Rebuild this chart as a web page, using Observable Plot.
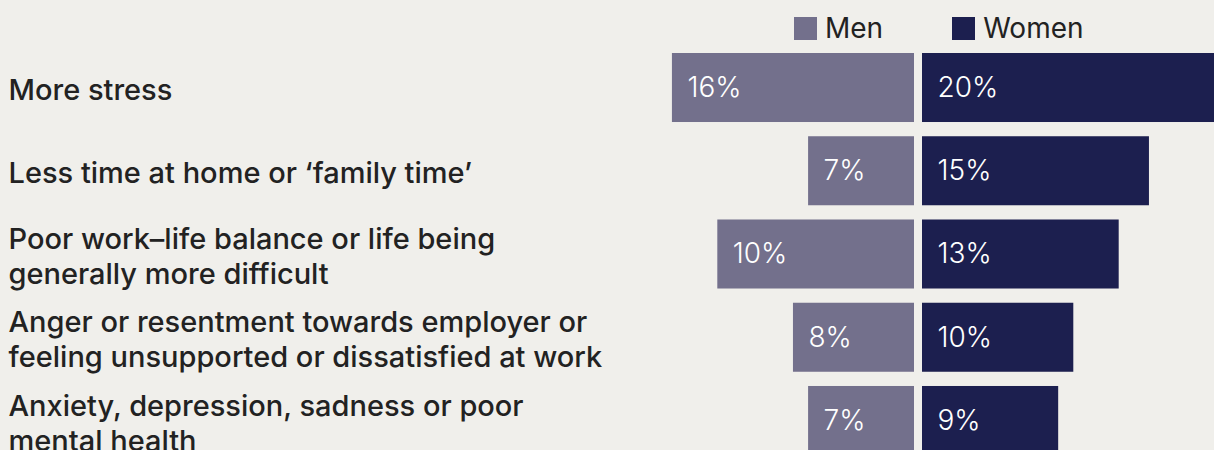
<!DOCTYPE html>
<html><head><meta charset="utf-8">
<script src="https://cdn.jsdelivr.net/npm/d3@7"></script>
<script src="https://cdn.jsdelivr.net/npm/@observablehq/plot@0.6"></script>
<style>
html,body{margin:0;padding:0;background:#f0efeb;overflow:hidden;width:1214px;height:450px}
#wrap{position:relative;width:1214px;height:450px;overflow:hidden}
#legend{position:absolute;left:794px;top:10px;display:flex;align-items:center;font-family:Inter,sans-serif;font-size:28px;color:#222;line-height:37px}
.item{display:inline-flex;align-items:center;margin-right:69px}
.sw{width:23px;height:23px;margin-right:8px}
#chart{position:absolute;left:0;top:0}
</style></head><body><div id="wrap"><div id="chart"></div><div id="legend"></div></div>
<script>
const categories = [
  "More stress",
  "Less time at home or ‘family time’",
  "Poor work–life balance or life being\ngenerally more difficult",
  "Anger or resentment towards employer or\nfeeling unsupported or dissatisfied at work",
  "Anxiety, depression, sadness or poor\nmental health"
];
const menValues = [16, 7, 13, 8, 7];
const menLabels = ["16%", "7%", "10%", "8%", "7%"];
const womenValues = [20, 15, 13, 10, 9];
const womenLabels = ["20%", "15%", "13%", "10%", "9%"];
const seriesNames = ["Men", "Women"];
const seriesColors = ["#73708c", "#1c1f4f"];

const men = categories.map((c, i) => ({cat: c, value: -menValues[i], label: menLabels[i]}));
const women = categories.map((c, i) => ({cat: c, value: womenValues[i], label: womenLabels[i]}));

const pxPerPct = 15.13;
const center = 918;

const chart = Plot.plot({
  width: 1214,
  height: 460,
  marginLeft: 0, marginRight: 0, marginTop: 0, marginBottom: 0,
  style: {background: "transparent", fontFamily: "Inter, sans-serif", color: "#222", overflow: "visible"},
  x: {domain: [0, 20], range: [center, center + 20 * pxPerPct], axis: null},
  y: {domain: categories, range: [53, 455], paddingInner: 0.171, paddingOuter: 0, round: false, axis: null},
  marks: [
    Plot.barX(men, {x1: 0, x2: "value", y: "cat", fill: seriesColors[0], dx: -4}),
    Plot.barX(women, {x1: 0, x2: "value", y: "cat", fill: seriesColors[1], dx: 4}),
    Plot.text(men, {x: "value", y: "cat", text: "label", textAnchor: "start", dx: 11, fill: "white", fontSize: 28, fontWeight: 300}),
    Plot.text(women, {x: 0, y: "cat", text: "label", textAnchor: "start", dx: 19, fill: "white", fontSize: 28, fontWeight: 300}),
    Plot.text(categories, {y: d => d, text: d => d, frameAnchor: "left", textAnchor: "start", dx: 8, dy: 1, fontSize: 29, fontWeight: 500, lineHeight: 1.2, fill: "#222"})
  ]
});
document.getElementById("chart").appendChild(chart);

const legend = document.getElementById("legend");
seriesNames.forEach((n, i) => {
  const it = document.createElement("span");
  it.className = "item";
  const sw = document.createElement("span");
  sw.className = "sw";
  sw.style.background = seriesColors[i];
  const t = document.createElement("span");
  t.textContent = n;
  it.appendChild(sw); it.appendChild(t);
  legend.appendChild(it);
});
</script></body></html>
